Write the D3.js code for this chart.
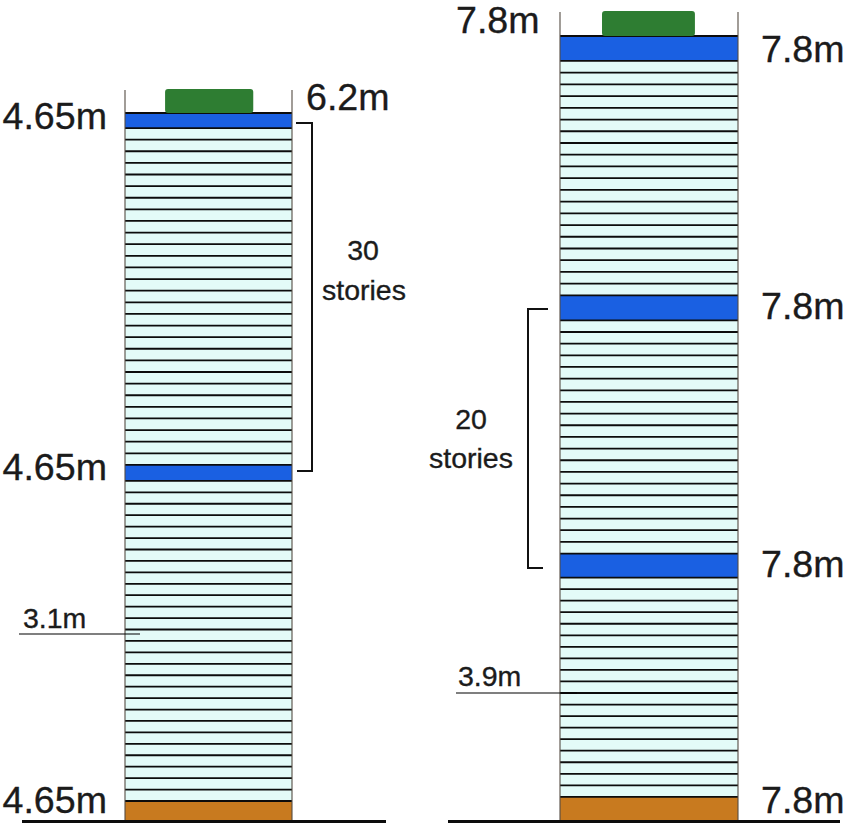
<!DOCTYPE html>
<html>
<head>
<meta charset="utf-8">
<script src="https://d3js.org/d3.v7.min.js"></script>
<style>
  html,body{margin:0;padding:0;background:#fff;}
  svg{display:block;}
  text{font-family:"Liberation Sans",Arial,sans-serif;fill:#1b1b1b;stroke:#1b1b1b;stroke-width:0.35;}
</style>
</head>
<body>
<svg id="stage" width="850" height="830"></svg>
<script>
// zones bottom to top: storey height as drawn (m, schematic so not exactly the label) and storey count
const leftKinds      = ["ground","typical","refuge","typical","refuge"];
const leftHeights    = [5.12,3.08,4.3,3.13,4.05];
const leftCounts     = [1,28,1,29,1];
const rightKinds     = ["ground","typical","refuge","typical","refuge","typical","refuge"];
const rightHeights   = [7.7,3.84,8.0,3.88,8.3,3.9,8.3];
const rightCounts    = [1,19,1,20,1,20,1];

const kindColors = {ground:"#c87a1f", typical:"#e3fbf8", refuge:"#1a60e2"};

const svg = d3.select("#stage");
const GROUND=820;

// stack the zones into storeys with base/top elevation
function stack(kinds, heights, counts){
  let z = 0;
  return d3.merge(kinds.map((kind,i)=>
    d3.range(counts[i]).map(()=>{
      const s = {kind, base:z, top:z+heights[i]};
      z = s.top;
      return s;
    })
  ));
}

function drawTower(o){
  const stories = stack(o.kinds,o.heights,o.counts);
  const total = stories[stories.length-1].top;
  const y = d3.scaleLinear().domain([0,total]).range([GROUND,o.roofY]);
  const x = d3.scaleLinear().domain([0,1]).range(o.xRange);
  const g = svg.append("g");

  g.selectAll("rect.story").data(stories).join("rect")
    .attr("class","story")
    .attr("x",x(0)).attr("width",x(1)-x(0))
    .attr("y",d=>y(d.top)).attr("height",d=>y(d.base)-y(d.top))
    .attr("fill",d=>kindColors[d.kind]);

  // floor lines
  g.selectAll("line.floor").data(stories).join("line")
    .attr("class","floor")
    .attr("x1",x(0)).attr("x2",x(1))
    .attr("y1",d=>y(d.top)).attr("y2",d=>y(d.top))
    .attr("stroke","#0c0c0c").attr("stroke-width",1.8);

  // side walls + parapet
  g.selectAll("line.wall").data([0,1]).join("line")
    .attr("class","wall")
    .attr("x1",d=>x(d)).attr("x2",d=>x(d))
    .attr("y1",o.parapetY).attr("y2",GROUND)
    .attr("stroke","#544c42").attr("stroke-width",1.1);

  // green roof block
  g.append("rect")
    .attr("x",x(o.roofBlock[0])).attr("width",x(o.roofBlock[1])-x(o.roofBlock[0]))
    .attr("y",o.parapetY-1).attr("height",o.roofY-o.parapetY+1)
    .attr("rx",3)
    .attr("fill","#2e7d32");

  // ground
  g.append("line")
    .attr("x1",o.groundLine[0]).attr("x2",o.groundLine[1])
    .attr("y1",GROUND+1.5).attr("y2",GROUND+1.5)
    .attr("stroke","#0c0c0c").attr("stroke-width",3);
}

drawTower({kinds:leftKinds,heights:leftHeights,counts:leftCounts,
  xRange:[125,292],roofY:113,parapetY:90,roofBlock:[0.24,0.768],groundLine:[22,386]});
drawTower({kinds:rightKinds,heights:rightHeights,counts:rightCounts,
  xRange:[560,738],roofY:36,parapetY:12,roofBlock:[0.236,0.758],groundLine:[448,840]});

// brackets and leaders
const line = d3.line();
const bracketPaths = [
  [[296,123],[312,123],[312,471],[297,471]],
  [[548,309],[528,309],[528,568],[543,568]]
];
svg.selectAll("path.bracket").data(bracketPaths).join("path")
  .attr("class","bracket")
  .attr("d",line).attr("fill","none")
  .attr("stroke","#111").attr("stroke-width",2);

const leaderPaths = [
  [[19,634],[140,634]],
  [[456,693],[577,693]]
];
svg.selectAll("path.leader").data(leaderPaths).join("path")
  .attr("class","leader")
  .attr("d",line).attr("fill","none")
  .attr("stroke","#000").attr("stroke-width",1.2);

// labels
const bigLabels = ["4.65m","6.2m","4.65m","4.65m","7.8m","7.8m","7.8m","7.8m","7.8m"];
const bigX      = [2.5,306,2.5,2.5,456,761,761,761,761];
const bigY      = [129,110,480,813,33,62,319,577,813];
svg.selectAll("text.big").data(bigLabels).join("text")
  .attr("class","big")
  .attr("x",(d,i)=>bigX[i]).attr("y",(d,i)=>bigY[i])
  .attr("font-size",37.6)
  .text(d=>d);

const noteLabels = ["30","stories","20","stories"];
const noteX      = [363,364,471,471];
const noteY      = [260,300,429,468];
svg.selectAll("text.note").data(noteLabels).join("text")
  .attr("class","note")
  .attr("x",(d,i)=>noteX[i]).attr("y",(d,i)=>noteY[i])
  .attr("text-anchor","middle")
  .attr("font-size",28.5)
  .text(d=>d);

const spanLabels = ["3.1m","3.9m"];
const spanX      = [23,458];
const spanY      = [628,686];
svg.selectAll("text.span").data(spanLabels).join("text")
  .attr("class","span")
  .attr("x",(d,i)=>spanX[i]).attr("y",(d,i)=>spanY[i])
  .attr("font-size",28.5)
  .text(d=>d);
</script>
</body>
</html>
